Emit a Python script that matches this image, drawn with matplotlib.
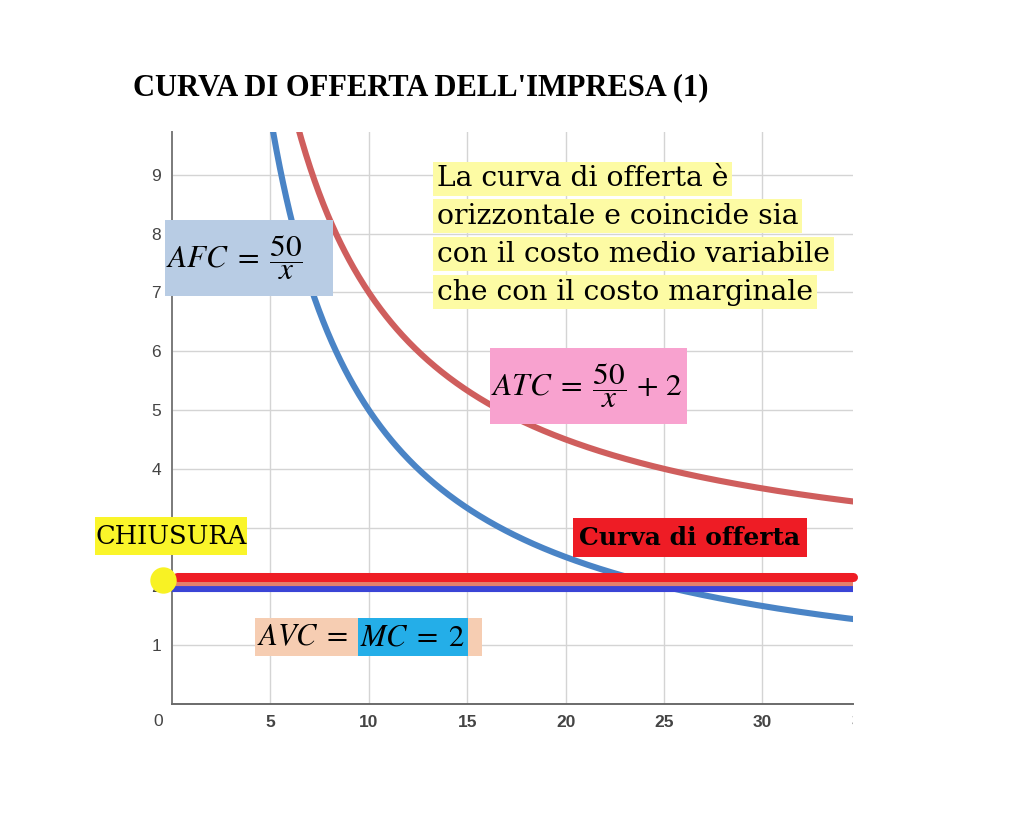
import numpy as np
import matplotlib
matplotlib.use("Agg")
from matplotlib import pyplot as plt
from matplotlib.patches import Rectangle
from matplotlib.transforms import ScaledTranslation, Bbox, TransformedBbox

# values
fixed_cost = 50          # AFC = 50 / x
avc_value = 2            # AVC = MC = 2
x_ticks = [5, 10, 15, 20, 25, 30]
y_ticks = [1, 2, 3, 4, 5, 6, 7, 8, 9]
x_max, y_max = 34.6, 9.73

title = "CURVA DI OFFERTA DELL'IMPRESA (1)"
note_lines = ["La curva di offerta è",
              "orizzontale e coincide sia",
              "con il costo medio variabile",
              "che con il costo marginale"]

plt.rcParams['mathtext.fontset'] = 'stix'
serif = ['DejaVu Serif']
title_font = ['Liberation Serif', 'DejaVu Serif']
sans = ['Liberation Sans', 'DejaVu Sans']

fig = plt.figure(figsize=(10.24, 8.35), dpi=100)
ax = fig.add_axes([172/1024, 1 - 704/835, 681/1024, 572/835])

q = np.linspace(3, 36, 600)
afc = fixed_cost / q
atc = fixed_cost / q + avc_value

ax.plot(q, afc, color='#4a84c6', lw=4.4, zorder=3)
ax.plot(q, atc, color='#cf5e5d', lw=4.4, zorder=3)

def shift(px_y, px_x=0):
    return ScaledTranslation(px_x / 100, px_y / 100, fig.dpi_scale_trans)

# AVC = MC (blue), salmon in-between and supply curve (red)
l_mc = ax.axhline(avc_value, xmin=0.0, xmax=1.0, color='#3a44d6', lw=4.4, zorder=4)
l_mc.set_transform(l_mc.get_transform() + shift(-2.6))
l_avc = ax.axhline(avc_value, xmin=0.0, xmax=1.0, color='#e2806c', lw=3.0, zorder=4)
l_avc.set_transform(l_avc.get_transform() + shift(2.4))
l_sup = ax.axhline(avc_value, xmin=0.008, xmax=1.0, color='#ee1d25', lw=6.5, zorder=5,
                   solid_capstyle='round', clip_on=False)
l_sup.set_transform(l_sup.get_transform() + shift(9))

dot, = ax.plot([0], [avc_value], 'o', ms=19, color='#f8f224', mec='none',
               zorder=6, clip_on=False)
dot.set_transform(dot.get_transform() + shift(6, -9))

ax.set_xlim(0, x_max)
ax.set_ylim(0, y_max)
ax.set_xticks(x_ticks)
ax.set_yticks(y_ticks)
ax.grid(True, color='#d4d4d4', lw=1.0, zorder=0)
ax.set_axisbelow(True)
for s in ['top', 'right']:
    ax.spines[s].set_visible(False)
ax.spines['left'].set_color('#7a7a7a')
ax.spines['bottom'].set_color('#6a6a6a')
ax.spines['left'].set_linewidth(1.4)
ax.spines['bottom'].set_linewidth(1.4)
ax.tick_params(length=0, colors='#444444')
ax.tick_params(axis='x', pad=8)
ax.tick_params(axis='y', pad=8)
for lab in ax.get_xticklabels():
    lab.set_fontfamily(sans)
    lab.set_fontsize(12.5)
    lab.set_fontweight('bold')
for lab in ax.get_yticklabels():
    lab.set_fontfamily(sans)
    lab.set_fontsize(12.5)
# the "3" sits under the CHIUSURA box in the original
ax.get_yticklabels()[2].set_visible(False)

# origin label, set left of the axis like the y labels
ax.text(-0.45, -0.17, "0", ha='right', va='top', fontsize=12.5, color='#444444',
        family=sans, clip_on=False)

# the "35" label, cut at the right edge of the plot
cut = TransformedBbox(Bbox([[0, 0], [853/1024, 1]]), fig.transFigure)
t35 = ax.text(35, -0.17, "35", ha='center', va='top', fontsize=12.5,
              fontweight='bold', color='#444444', family=sans, clip_on=True)
t35.set_clip_box(cut)

# title
fig.text(133/1024, 1 - 88/835, title, ha='left', va='center', fontsize=22,
         fontweight='bold', family=title_font)

def box(x0, y0, x1, y1, color):
    # box given in pixels of the figure
    r = Rectangle((x0/1024, 1 - y1/835), (x1 - x0)/1024, (y1 - y0)/835,
                  transform=fig.transFigure, facecolor=color, edgecolor='none',
                  zorder=7)
    fig.add_artist(r)

def label(xp, yp, s, ha='center', **kw):
    fig.text(xp/1024, 1 - yp/835, s, ha=ha, va='center', zorder=8, **kw)

# AFC
box(165, 220, 333, 296, '#b8cce4')
label(166, 258, r'$AFC\;=\;\dfrac{50}{x}$', ha='left', fontsize=22.5)

# ATC
box(490, 348, 687, 424, '#f8a2cf')
label(491, 386, r'$ATC\;=\;\dfrac{50}{x}\,+\,2$', ha='left', fontsize=22.5)

# explanatory note, each line highlighted
note_y = [179, 216, 254, 292]
for s, yp in zip(note_lines, note_y):
    fig.text(437/1024, 1 - yp/835, s, ha='left', va='center', fontsize=20.3,
             family=serif, zorder=8,
             bbox=dict(boxstyle='square,pad=0.14', facecolor='#fdfba4',
                       edgecolor='none'))

# CHIUSURA
box(95, 517, 247, 555, '#faf52a')
label(171, 537, "CHIUSURA", fontsize=18.5, family=serif)

# Curva di offerta
box(573, 518, 807, 557, '#ee1c25')
label(690, 538, "Curva di offerta", fontsize=18, fontweight='bold', family=serif)

# AVC = MC = 2
box(255, 618, 482, 656, '#f6cdb2')
box(358, 618, 468, 656, '#24aee8')
label(257, 637, r'$AVC\;=$', ha='left', fontsize=22)
label(360, 637, r'$MC\;=\;2$', ha='left', fontsize=22)

fig.savefig('out.png', dpi=100)
